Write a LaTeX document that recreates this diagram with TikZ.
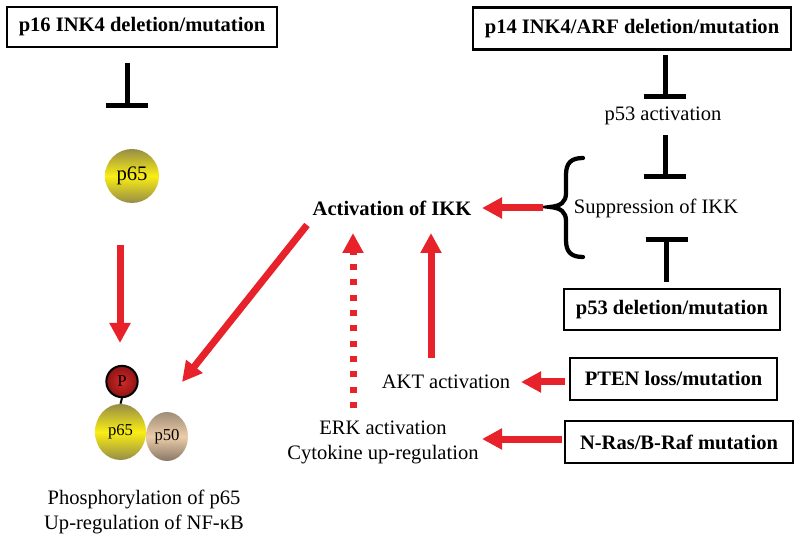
\documentclass[tikz,border=0pt]{standalone}
\usepackage{fontspec}
\setmainfont{Liberation Serif}
\usetikzlibrary{arrows.meta,shapes.geometric,calc}
\definecolor{arrred}{RGB}{232,34,42}
\definecolor{yolive}{RGB}{150,140,70}
\definecolor{ybright}{RGB}{250,238,20}
\definecolor{tandark}{RGB}{160,140,120}
\definecolor{tanlight}{RGB}{236,205,168}
\definecolor{pred}{RGB}{215,40,40}
\definecolor{pdark}{RGB}{140,20,20}
\begin{document}
\begin{tikzpicture}[x=0.75pt,y=-0.75pt,
  every node/.style={font=\fontsize{15.4}{18.75}\selectfont, inner sep=0pt},
  gbox/.style={draw, line width=2pt, font=\fontsize{15.4}{18.75}\selectfont\bfseries, minimum height=31.5pt},
  redarr/.style={draw=arrred, line width=5.25pt, -{Triangle[length=15pt,width=15pt]}, arrred},
  inh/.style={draw=black, line width=3.75pt},
  small/.style={font=\fontsize{12.5}{15}\selectfont},
  yball/.style={top color=yolive, bottom color=yolive, middle color=ybright}]
\useasboundingbox (0,0) rectangle (800,538);

% boxes
\node[gbox, minimum width=202.5pt, minimum height=30pt] (p16) at (142,27) {p16 INK4 deletion/mutation};
\node[gbox, minimum width=238.5pt] (p14) at (632,28.5) {p14 INK4/ARF deletion/mutation};
\node[gbox, minimum width=162pt, minimum height=30.75pt] (p53box) at (672,309.5) {p53 deletion/mutation};
\node[gbox, minimum width=155.25pt] (pten) at (673.5,379) {PTEN loss/mutation};
\node[gbox, minimum width=171pt] (nras) at (679,442) {N-Ras/B-Raf mutation};

% molecules
\node[circle, minimum size=40.5pt, yball, font=\fontsize{15.5}{18}\selectfont] (p65a) at (132,176) {p65};
\node[ellipse, minimum width=31.5pt, minimum height=36.75pt, top color=tandark, bottom color=tandark!85!black, middle color=tanlight, small] (p50) at (167,436.5) {p50};
\node[ellipse, minimum width=38.25pt, minimum height=42pt, yball, small] (p65b) at (120.5,432) {p65};
\node[circle, draw, line width=1.5pt, minimum size=23.5pt, inner color=pred, outer color=pdark, small] (P) at (122,381.5) {P};
\draw[line width=1.5pt] (P.south) -- (p65b.north);

% texts
\node[font=\fontsize{15.4}{18.75}\selectfont\bfseries] (ikk) at (392,208) {Activation of IKK};
\node (p53a) at (663,116) {p53 activation};
\node (supp) at (656,208) {Suppression of IKK};
\node (akt) at (446,382) {AKT activation};
\node[align=center] (erk) at (383,442.5) {ERK activation\\Cytokine up-regulation};
\node[align=center] (phos) at (144,512) {Phosphorylation of p65\\Up-regulation of NF-κB};

% inhibition bars
\coordinate (t1a) at (127,63);  \coordinate (t1b) at (127,106);
\coordinate (t2a) at (665,55);  \coordinate (t2b) at (665,97);
\coordinate (t3a) at (665,135); \coordinate (t3b) at (665,177);
\coordinate (t4a) at (666.5,282); \coordinate (t4b) at (666.5,240);
\foreach \a/\b in {t1a/t1b,t2a/t2b,t3a/t3b,t4a/t4b}{
  \draw[inh] (\a) -- (\b);
  \draw[inh] ($(\b)+(-21,0)$) -- ($(\b)+(21,0)$);
}

% brace
\draw[line width=3.2pt, line cap=round] (583,158) .. controls (571,158) and (566,163) .. (566,175) -- (566,193) .. controls (566,202) and (561,206) .. (550,207) .. controls (561,208) and (566,212) .. (566,221) -- (566,240) .. controls (566,252) and (571,257) .. (583,257);
\coordinate (bracetip) at (543,208);

% red arrows
\coordinate (d1s) at (120,245); \coordinate (d1e) at (120,343);
\draw[redarr] (d1s) -- (d1e);
\coordinate (dgs) at (307,225); \coordinate (dge) at (182,382);
\draw[redarr] (dgs) -- (dge);
\coordinate (ikkin) at (482,208);
\draw[redarr] (bracetip) -- (ikkin);
\coordinate (dsh) at (353,408); \coordinate (dsh2) at (353,233);
\draw[redarr, dash pattern=on 4.5pt off 7pt] (dsh) -- (dsh2);
\coordinate (akts) at (431,358); \coordinate (akte) at (431,233);
\draw[redarr] (akts) -- (akte);
\coordinate (ptens) at (565,382); \coordinate (ptene) at (521,382);
\draw[redarr] (ptens) -- (ptene);
\coordinate (nrass) at (562,439); \coordinate (nrase) at (482,439);
\draw[redarr] (nrass) -- (nrase);
\end{tikzpicture}
\end{document}
